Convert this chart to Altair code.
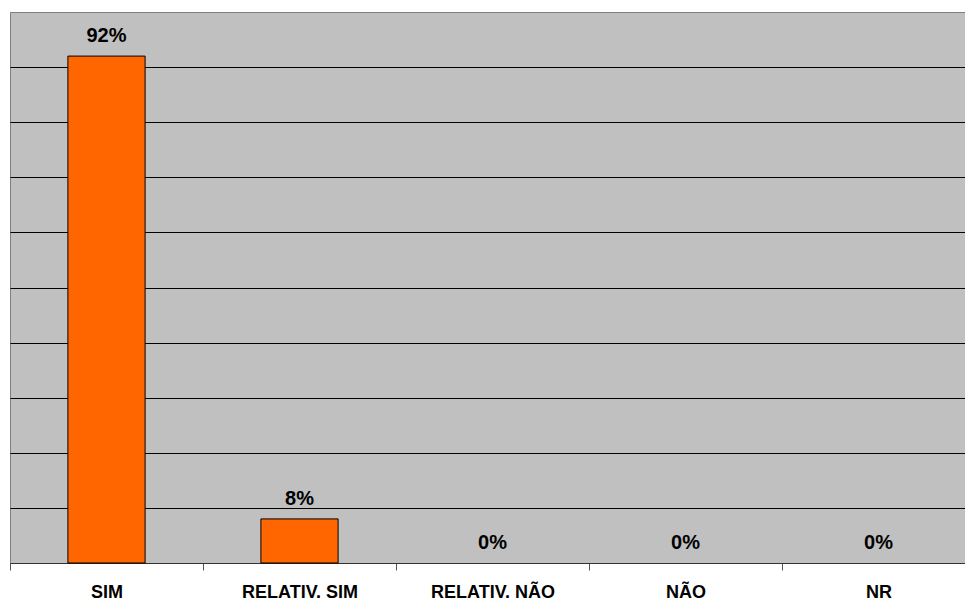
import altair as alt
import pandas as pd

categories = ["SIM", "RELATIV. SIM", "RELATIV. NÃO", "NÃO", "NR"]
values = [92, 8, 0, 0, 0]
labels = ["92%", "8%", "0%", "0%", "0%"]

df = pd.DataFrame({"cat": categories, "val": values, "lab": labels})

FONT = "Liberation Sans"

x = alt.X(
    "cat:N",
    sort=categories,
    title=None,
    scale=alt.Scale(range=[0, 965], paddingInner=0, paddingOuter=0),
    axis=alt.Axis(
        tickBand="extent",
        labelAngle=0,
        labelFont=FONT,
        labelFontSize=18,
        labelFontWeight="bold",
        labelColor="black",
        labelPadding=13,
        tickSize=7,
        tickColor="#555555",
        domainColor="#333333",
        grid=False,
    ),
)
y = alt.Y(
    "val:Q",
    title=None,
    scale=alt.Scale(domain=[0, 100], nice=False),
    axis=alt.Axis(
        values=[10, 20, 30, 40, 50, 60, 70, 80, 90],
        labels=False,
        ticks=False,
        domain=False,
        grid=True,
        gridColor="black",
        gridWidth=1,
        gridOpacity=1,
    ),
)

bars = alt.Chart(df).transform_filter("datum.val > 0").mark_bar(
    color="#FF6600", stroke="black", strokeWidth=1, width=alt.RelativeBandSize(0.4)
).encode(x=x, y=y)

text = alt.Chart(df).mark_text(
    font=FONT, fontSize=20, fontWeight="bold", color="black",
    baseline="alphabetic", dy=-14
).encode(x=alt.X("cat:N", sort=categories), y=alt.Y("val:Q"), text="lab:N")

chart = (
    alt.layer(bars, text)
    .properties(
        width=955,
        height=551,
        autosize=alt.AutoSizeParams(type="none"),
        padding={"left": 10, "top": 12, "right": 0, "bottom": 38},
        background="white",
    )
    .configure_view(fill="#C0C0C0", stroke="#808080", strokeWidth=1)
)

chart.save("out.html", embed_options={"renderer": "svg", "actions": False})
